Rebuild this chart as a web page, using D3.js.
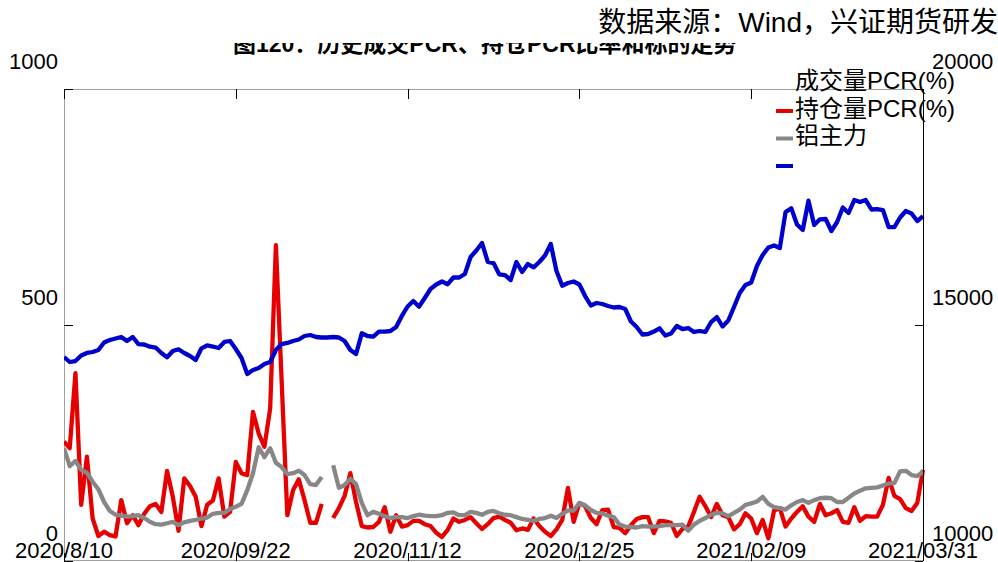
<!DOCTYPE html>
<html>
<head>
<meta charset="utf-8">
<script src="https://cdn.jsdelivr.net/npm/d3@7"></script>
<style>
html,body{margin:0;padding:0;background:#fff;}
svg{display:block;}
text{font-family:"Liberation Sans","Noto Sans CJK SC",Arial,sans-serif;}
</style>
</head>
<body>
<svg id="chart" width="998" height="562"></svg>
<script>
// ---- data ----
const xTickLabels = ["2020/8/10","2020/09/22","2020/11/12","2020/12/25","2021/02/09","2021/03/31"];
const xTickIndex = [0,30,60,90,120,150];
const leftTicks = [0,500,1000];
const rightTicks = [10000,15000,20000];
const legendTexts = ["成交量PCR(%)","持仓量PCR(%)","铝主力",""];
const seriesNames = ["成交量PCR(%)","持仓量PCR(%)","铝主力"];

// 成交量PCR (red, left axis)
const volPCR = [253,239,398,119,221,90,53,62,55,52,129,80,97,76,100,116,121,104,191,136,
64,175,159,136,74,119,128,175,94,104,210,186,182,316,270,242,323,669,383,97,
150,173,129,81,81,121,null,91,112,138,186,125,74,71,72,83,114,62,97,73,
76,85,85,78,74,60,51,66,90,83,87,93,80,68,78,91,94,87,81,65,
69,66,90,74,62,53,67,87,155,83,123,116,91,78,108,109,72,70,59,76,
89,93,93,59,85,84,81,53,68,73,104,136,116,93,121,97,93,67,78,101,
90,59,87,48,107,112,73,90,104,116,94,83,121,97,101,108,83,81,114,85,
95,94,94,119,176,138,131,112,106,123,193];

// 持仓量PCR (grey, left axis)
const oiPCR = [239,201,212,193,187,168,152,125,106,98,96,94,95,97,91,83,78,77,80,83,
76,82,85,87,90,92,100,102,102,110,115,121,150,186,241,220,239,208,199,184,
186,191,182,163,161,178,null,203,155,161,174,163,123,97,104,100,95,91,93,93,
91,95,98,96,95,95,97,102,103,97,97,104,102,98,104,106,101,98,97,93,
89,87,85,89,91,96,91,100,107,107,123,118,108,102,101,96,93,77,73,72,
71,74,73,73,74,76,76,76,77,64,77,85,91,98,102,101,95,102,109,119,
122,126,136,121,114,112,109,118,125,129,123,129,133,134,133,125,125,134,143,149,
154,155,156,160,164,165,190,191,182,180,189];

// 铝主力 (blue, right axis)
const alMain = [14322,14216,14237,14354,14407,14428,14470,14629,14682,14714,14746,14661,14746,14597,14587,14540,14523,14407,14316,14449,
14485,14407,14343,14258,14506,14566,14544,14513,14640,14661,14491,14301,13962,14047,14089,14174,14216,14470,14597,14619,
14661,14693,14767,14788,14746,14735,14735,14746,14735,14661,14470,14385,14824,14767,14752,14858,14858,14873,14958,15191,
15392,15508,15388,15572,15763,15858,15921,15864,16006,16006,16080,16441,16578,16737,16335,16313,16074,16059,15953,16335,
16123,16292,16222,16335,16472,16716,16144,15833,15890,15921,15858,15614,15413,15466,15445,15402,15371,15381,15339,15074,
14958,14799,14809,14862,14930,14777,14820,14979,14915,14936,14852,14873,14852,15063,15169,14968,15095,15381,15678,15847,
15900,16250,16483,16642,16684,16631,17394,17472,17129,17013,17633,17118,17239,17246,16991,17182,17489,17373,17648,17606,
17648,17447,17457,17436,17076,17072,17277,17415,17362,17203,17309];

const colors = ["#e60000","#878787","#0000cc"];

// ---- layout ----
const W = 998, H = 562;
const L = 64, R = 923, T = 89, B = 561;
const svg = d3.select("#chart");

const n = alMain.length;
const x = d3.scaleLinear().domain([0, n - 1]).range([L, R]);
const yL = d3.scaleLinear().domain([0, 1000]).range([B, T]);
const yR = d3.scaleLinear().domain([10000, 20000]).range([B, T]);

// source text
svg.append("text").attr("x", 998).attr("y", 32).attr("text-anchor", "end")
  .attr("font-size", 28).attr("fill", "#000").text("数据来源：Wind，兴证期货研发");

// title (clipped: only lower part visible)
svg.append("clipPath").attr("id", "titleclip").append("rect")
  .attr("x", 0).attr("y", 43).attr("width", W).attr("height", 20);
svg.append("text").attr("clip-path", "url(#titleclip)")
  .attr("x", 233).attr("y", 52).attr("font-size", 23).attr("font-weight", "bold")
  .attr("fill", "#000").text("图120：历史成交PCR、持仓PCR比率和标的走势");

// frame lines
const grey = "#a0a0a0";
svg.append("line").attr("x1", L).attr("x2", R).attr("y1", T + 0.5).attr("y2", T + 0.5).attr("stroke", grey);
svg.append("line").attr("x1", L).attr("x2", R).attr("y1", B - 0.5).attr("y2", B - 0.5).attr("stroke", grey);
svg.append("line").attr("x1", L + 0.5).attr("x2", L + 0.5).attr("y1", T).attr("y2", B).attr("stroke", grey);

// clip for plot
svg.append("clipPath").attr("id", "plotclip").append("rect")
  .attr("x", L).attr("y", T - 10).attr("width", R - L + 6).attr("height", B - T + 10);

const g = svg.append("g").attr("clip-path", "url(#plotclip)");
const lineL = d3.line().defined(d => d != null).x((d, i) => x(i)).y(d => yL(d));
const lineR = d3.line().defined(d => d != null).x((d, i) => x(i)).y(d => yR(d));

g.append("path").datum(volPCR).attr("d", lineL).attr("fill", "none")
  .attr("stroke", colors[0]).attr("stroke-width", 4.3).attr("stroke-linejoin", "round");
g.append("path").datum(oiPCR).attr("d", lineL).attr("fill", "none")
  .attr("stroke", colors[1]).attr("stroke-width", 4.3).attr("stroke-linejoin", "round");
g.append("path").datum(alMain).attr("d", lineR).attr("fill", "none")
  .attr("stroke", colors[2]).attr("stroke-width", 4.3).attr("stroke-linejoin", "round");

// left axis ticks and labels
leftTicks.forEach(v => {
  svg.append("line").attr("x1", L).attr("x2", L + 9).attr("y1", Math.round(yL(v)) + 0.5).attr("y2", Math.round(yL(v)) + 0.5)
    .attr("stroke", "#000");
  svg.append("text").attr("x", 58).attr("y", yL(v) - 20).attr("text-anchor", "end")
    .attr("font-size", 22).attr("fill", "#000").text(v);
});

// right axis
svg.append("line").attr("x1", R + 0.5).attr("x2", R + 0.5).attr("y1", T).attr("y2", B).attr("stroke", "#000");
rightTicks.forEach(v => {
  svg.append("line").attr("x1", R - 8).attr("x2", R).attr("y1", Math.round(yR(v)) + 0.5).attr("y2", Math.round(yR(v)) + 0.5)
    .attr("stroke", "#000");
  svg.append("text").attr("x", 932).attr("y", yR(v) - 20).attr("text-anchor", "start")
    .attr("font-size", 22).attr("fill", "#000").text(v);
});

// x ticks and labels
xTickIndex.forEach((idx, k) => {
  const xx = Math.round(x(idx)) + 0.5;
  svg.append("line").attr("x1", xx).attr("x2", xx).attr("y1", T).attr("y2", T + 10).attr("stroke", "#000");
  svg.append("line").attr("x1", xx).attr("x2", xx).attr("y1", B - 8).attr("y2", B).attr("stroke", "#000");
  svg.append("text").attr("x", x(idx)).attr("y", 558).attr("text-anchor", "middle")
    .attr("font-size", 22).attr("fill", "#000").text(xTickLabels[k]);
});

// legend (labels shifted one row above their swatches as in the reference)
const lg = svg.append("g");
legendTexts.forEach((t, i) => {
  const yy = 89 + i * 27.5;
  if (t) lg.append("text").attr("x", 795).attr("y", yy).attr("font-size", 24)
    .attr("fill", "#000").text(t);
});
colors.forEach((c, i) => {
  const yy = 111 + i * 27.5;
  lg.append("line").attr("x1", 776).attr("x2", 793).attr("y1", yy).attr("y2", yy)
    .attr("stroke", c).attr("stroke-width", 4);
});
</script>
</body>
</html>
